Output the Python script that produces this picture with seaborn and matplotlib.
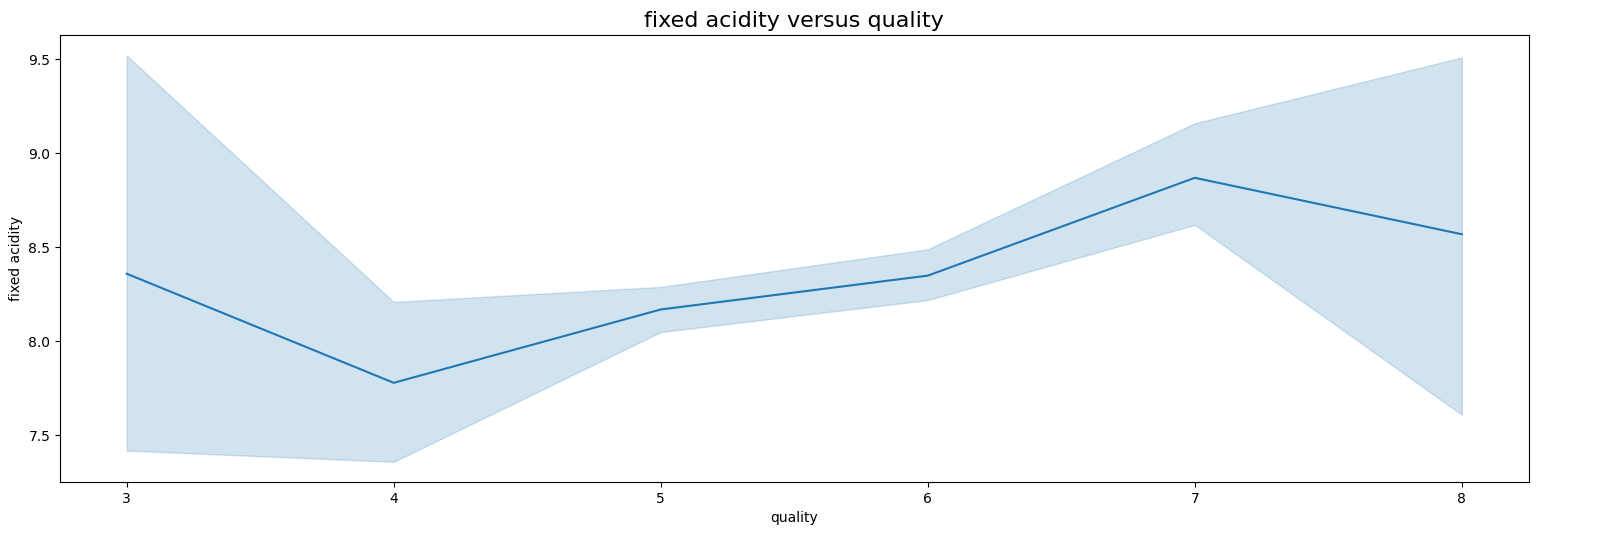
import matplotlib
matplotlib.use("Agg")
import matplotlib.pyplot as plt
import seaborn as sns
import pandas as pd

quality = [3, 4, 5, 6, 7, 8]
mean_fa = [8.36, 7.78, 8.17, 8.35, 8.87, 8.57]
lower_fa = [7.42, 7.36, 8.05, 8.22, 8.62, 7.61]
upper_fa = [9.52, 8.21, 8.29, 8.49, 9.16, 9.51]

df = pd.DataFrame({"quality": quality, "fixed acidity": mean_fa})

fig, ax = plt.subplots(figsize=(16.21, 5.51), dpi=100)
fig.subplots_adjust(left=0.037, right=0.943, top=0.936, bottom=0.125)
sns.lineplot(data=df, x="quality", y="fixed acidity", ax=ax, color="#1f77b4")
ax.fill_between(quality, lower_fa, upper_fa, color="#1f77b4", alpha=0.2)
ax.set_title("fixed acidity versus quality", fontsize=16)
fig.savefig("out.png", dpi=100)
